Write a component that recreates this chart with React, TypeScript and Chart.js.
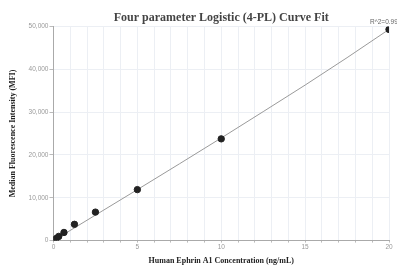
import React, { useEffect, useRef } from "react";
import { Chart, registerables } from "chart.js";

Chart.register(...registerables);

const concentrations = [0, 0.156, 0.3125, 0.625, 1.25, 2.5, 5, 10, 20];
const mfiValues = [100, 480, 980, 1900, 3800, 6650, 11900, 23750, 49300];
const fitX = [0, 2.5, 5, 7.5, 10, 12.5, 15, 17.5, 20];
const fitY = [0, 5950, 11900, 17900, 23950, 30100, 36300, 42700, 49300];
const rSquaredLabel = "R^2=0.9994";
const titleText = "Four parameter Logistic (4-PL) Curve Fit";
const xTitle = "Human Ephrin A1 Concentration (ng/mL)";
const yTitle = "Median Fluorescence Intensity (MFI)";

const rLabelPlugin = {
  id: "rLabel",
  afterDatasetsDraw(chart: any) {
    const { ctx, scales } = chart;
    const x = scales.x.getPixelForValue(concentrations[concentrations.length - 1]);
    const y = scales.y.getPixelForValue(mfiValues[mfiValues.length - 1]);
    ctx.save();
    ctx.font = "6.5px 'Liberation Sans', sans-serif";
    ctx.fillStyle = "#666";
    ctx.textAlign = "left";
    ctx.textBaseline = "bottom";
    ctx.fillText(rSquaredLabel, x - 19, y - 4);
    ctx.restore();
  },
};

export default function App() {
  const ref = useRef<HTMLCanvasElement>(null);
  useEffect(() => {
    if (!ref.current) return;
    const chart = new Chart(ref.current, {
      type: "scatter",
      data: {
        datasets: [
          {
            data: fitX.map((x, i) => ({ x, y: fitY[i] })),
            showLine: true,
            borderColor: "#9a9a9a",
            borderWidth: 1,
            pointRadius: 0,
            order: 2,
          },
          {
            data: concentrations.map((x, i) => ({ x, y: mfiValues[i] })),
            backgroundColor: "#222",
            borderColor: "#222",
            pointRadius: 3.2,
            order: 1,
          },
        ],
      },
      options: {
        animation: false,
        responsive: true,
        maintainAspectRatio: false,
        layout: { padding: { left: 0, right: 16, top: 0, bottom: 0 } },
        plugins: {
          legend: { display: false },
          tooltip: { enabled: false },
          title: {
            display: true,
            text: titleText,
            fullSize: false,
            color: "#444",
            font: { family: "'Liberation Serif', serif", size: 12, weight: "bold" },
            padding: { top: 3, bottom: 1 },
          },
        },
        scales: {
          x: {
            type: "linear",
            min: 0,
            max: 20,
            ticks: {
              stepSize: 1,
              autoSkip: false,
              maxRotation: 0,
              color: "#999",
              font: { family: "'Liberation Sans', sans-serif", size: 6.5 },
              callback: (v: any) => (Number(v) % 5 === 0 ? String(v) : ""),
              padding: 1,
            },
            grid: { color: "#eceff4", tickLength: 2, tickColor: "#bbb" },
            border: { color: "#aaa" },
            title: {
              display: true,
              text: xTitle,
              color: "#222",
              font: { family: "'Liberation Serif', serif", size: 8, weight: "bold" },
              padding: { top: 4, bottom: 1 },
            },
          },
          y: {
            type: "linear",
            min: 0,
            max: 50000,
            ticks: {
              stepSize: 10000,
              color: "#999",
              font: { family: "'Liberation Sans', sans-serif", size: 6.5 },
              callback: (v: any) => Number(v).toLocaleString("en-US"),
              padding: 1,
            },
            grid: { color: "#eceff4", tickLength: 4, tickColor: "#bbb" },
            border: { color: "#aaa" },
            title: {
              display: true,
              text: yTitle,
              color: "#222",
              font: { family: "'Liberation Serif', serif", size: 8, weight: "bold" },
              padding: { top: 0, bottom: 10 },
            },
          },
        },
      },
      plugins: [rLabelPlugin],
    });
    return () => chart.destroy();
  }, []);
  return (
    <div style={{ width: 397, height: 259 }}>
      <canvas ref={ref} />
    </div>
  );
}
